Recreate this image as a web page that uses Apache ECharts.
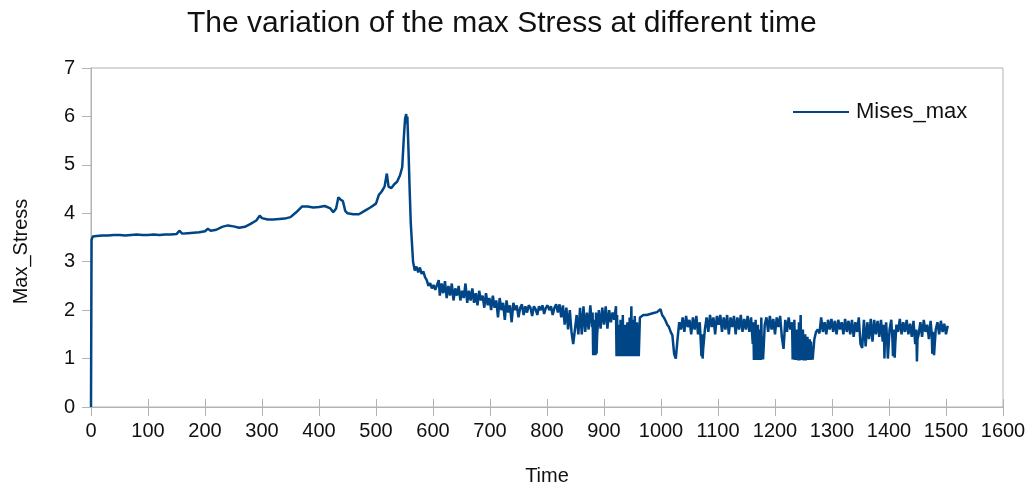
<!DOCTYPE html>
<html>
<head>
<meta charset="utf-8">
<title>Max Stress</title>
<script src="https://cdn.jsdelivr.net/npm/echarts@6/dist/echarts.min.js"></script>
<style>
  html, body { margin: 0; padding: 0; background: #fff; }
  #chart { width: 1033px; height: 491px; }
</style>
</head>
<body>
<div id="chart"></div>
<script>
// [time, Mises_max]
const riseSegment = [
  [0, 0], [1, 3.45], [3, 3.52], [10, 3.53], [20, 3.54], [30, 3.54], [40, 3.55], [50, 3.55],
  [60, 3.54], [70, 3.55], [80, 3.56], [90, 3.55], [100, 3.55], [110, 3.56], [120, 3.55],
  [130, 3.56], [140, 3.56], [150, 3.57], [155, 3.64], [160, 3.58], [170, 3.59], [180, 3.6],
  [190, 3.61], [200, 3.63], [205, 3.68], [210, 3.64], [220, 3.66], [230, 3.72], [240, 3.75],
  [250, 3.73], [260, 3.7], [270, 3.72], [280, 3.78], [290, 3.85], [296, 3.95], [300, 3.9],
  [310, 3.87], [320, 3.87], [330, 3.88], [340, 3.89], [350, 3.92], [360, 4.02], [370, 4.14],
  [380, 4.14], [390, 4.12], [400, 4.13], [410, 4.15], [420, 4.1], [425, 4.02], [430, 4.1],
  [434, 4.33], [438, 4.28], [442, 4.25], [446, 4.05], [450, 4.0], [460, 3.98], [470, 3.98],
  [480, 4.05], [490, 4.12], [500, 4.2], [505, 4.38], [510, 4.45], [515, 4.55], [519, 4.82],
  [522, 4.55], [527, 4.52], [532, 4.6], [537, 4.65], [542, 4.78]
];

const peakSegment = [
  [546, 4.95], [549, 5.6], [551, 5.95], [553, 6.05], [554, 5.85], [555, 6.0], [557, 5.3],
  [559, 4.5], [561, 3.8], [563, 3.4], [565, 3.0], [568, 2.82], [571, 2.9], [574, 2.78],
  [577, 2.88], [580, 2.75], [583, 2.8], [586, 2.68], [589, 2.62], [592, 2.5], [595, 2.56],
  [598, 2.45], [601, 2.52], [604, 2.42], [607, 2.38], [610, 2.62]
];

const decaySegment = [
  [612, 2.3], [615, 2.55], [618, 2.35], [621, 2.6], [624, 2.25], [627, 2.5], [630, 2.3],
  [633, 2.55], [636, 2.2], [639, 2.45], [642, 2.3], [645, 2.5], [648, 2.2], [651, 2.4],
  [654, 2.25], [657, 2.55], [660, 2.15], [663, 2.4], [666, 2.2], [669, 2.45], [672, 2.15],
  [675, 2.35], [678, 2.1], [681, 2.4], [684, 2.2], [687, 2.3], [690, 2.05], [693, 2.35],
  [696, 2.1], [699, 2.25], [702, 2.0], [705, 2.3], [708, 2.05], [711, 2.2], [714, 1.85],
  [717, 2.25], [720, 2.0], [723, 2.15], [726, 1.8], [729, 2.2], [732, 1.95], [735, 2.1],
  [738, 1.75], [741, 2.15], [744, 2.0], [747, 2.1], [750, 1.85], [753, 2.05], [756, 2.12],
  [759, 1.9], [762, 2.08], [765, 1.95], [768, 2.1], [771, 2.05], [774, 1.88], [777, 2.08],
  [780, 2.02], [783, 1.9], [786, 2.08], [789, 2.0], [792, 2.1], [795, 1.92], [798, 2.05],
  [801, 2.1], [804, 2.0], [807, 2.08], [810, 1.9], [813, 2.05], [816, 2.12], [819, 1.95],
  [822, 2.12], [825, 1.85], [828, 2.1], [831, 1.7], [834, 2.05], [837, 1.6], [840, 2.0],
  [843, 1.55], [846, 1.3], [849, 1.28], [852, 1.9], [855, 1.5], [858, 2.05], [861, 1.5],
  [864, 2.08], [867, 1.55], [870, 1.95], [873, 1.6], [876, 2.1], [879, 1.65], [880, 1.95],
  [881, 1.07], [882, 1.8], [883, 1.07], [884, 1.6], [885, 1.07], [886, 1.95], [887, 1.1],
  [888, 1.5], [891, 2.0], [894, 1.62], [897, 2.05], [900, 1.7], [903, 2.08],
  [906, 1.62], [909, 2.0], [912, 1.75], [915, 1.95], [918, 1.8], [921, 2.08], [922, 1.05],
  [923, 1.9], [924, 1.05], [925, 1.7], [926, 1.05], [927, 1.4], [928, 1.05], [929, 1.8],
  [930, 1.08], [931, 1.55], [932, 1.05], [933, 1.9], [934, 1.05], [935, 1.45], [936, 1.05],
  [937, 1.7], [938, 1.05], [939, 1.35], [940, 1.05], [941, 1.75], [942, 1.05], [943, 1.5],
  [944, 1.05], [945, 1.85], [946, 1.05], [947, 1.4], [948, 2.08], [949, 1.05], [950, 1.6],
  [951, 1.05], [952, 1.8], [953, 1.05], [954, 1.88], [955, 1.05], [956, 1.5], [957, 1.05],
  [958, 1.75], [959, 1.05], [960, 1.4], [961, 1.05], [963, 1.85], [966, 1.88],
  [969, 1.9], [972, 1.86], [975, 1.9], [978, 1.88], [981, 1.92], [984, 1.9], [987, 1.94],
  [990, 1.92], [993, 1.96], [996, 2.0], [999, 2.02], [1002, 1.9], [1005, 1.85], [1008, 1.78],
  [1011, 1.7], [1014, 1.65], [1017, 1.55], [1020, 1.48], [1023, 1.1], [1026, 1.0], [1029, 1.4],
  [1032, 1.75], [1035, 1.6], [1038, 1.85], [1041, 1.55], [1044, 1.88], [1047, 1.65], [1050, 1.8],
  [1053, 1.5], [1056, 1.85], [1059, 1.6], [1062, 1.88], [1065, 1.5], [1068, 1.75], [1070, 1.3],
  [1071, 1.05], [1072, 1.5], [1073, 1.0], [1074, 1.2], [1077, 1.6], [1080, 1.85], [1083, 1.55],
  [1086, 1.9], [1089, 1.65], [1092, 1.85],
  [1095, 1.5], [1098, 1.88], [1101, 1.7], [1104, 1.9], [1107, 1.55], [1110, 1.85], [1113, 1.6],
  [1116, 1.9], [1119, 1.5], [1122, 1.85], [1125, 1.65], [1128, 1.88], [1131, 1.5], [1134, 1.85],
  [1137, 1.6], [1140, 1.9], [1143, 1.55], [1146, 1.82], [1149, 1.6], [1152, 1.88], [1155, 1.55],
  [1158, 1.85], [1161, 1.3], [1162, 1.75], [1163, 0.97], [1164, 1.5], [1165, 0.97], [1166, 1.8],
  [1167, 0.97], [1168, 1.4], [1169, 0.97], [1170, 1.7], [1171, 0.97], [1172, 1.3], [1173, 0.97],
  [1174, 1.6], [1175, 0.97], [1176, 1.85], [1177, 0.98], [1178, 1.45], [1179, 0.98], [1180, 1.2],
  [1182, 1.7], [1185, 1.85], [1188, 1.55], [1191, 1.88], [1194, 1.6], [1197, 1.82],
  [1200, 1.5], [1203, 1.85], [1206, 1.65], [1209, 1.88], [1212, 1.45], [1215, 1.2], [1218, 1.8],
  [1221, 1.55], [1224, 1.85], [1227, 1.6], [1230, 1.75], [1231, 0.98], [1232, 1.5], [1233, 0.98],
  [1234, 1.8], [1235, 0.97], [1236, 1.35], [1237, 0.97], [1238, 1.6], [1239, 0.97], [1240, 1.4],
  [1241, 0.96], [1242, 1.75], [1243, 0.96], [1245, 1.9], [1246, 0.97], [1247, 1.45], [1248, 0.97],
  [1249, 1.6], [1250, 0.96], [1251, 1.35], [1252, 0.96], [1253, 1.5], [1254, 0.96], [1255, 1.3],
  [1256, 0.97], [1257, 1.45], [1258, 0.97], [1259, 1.3], [1260, 0.97], [1261, 1.4], [1262, 0.97],
  [1263, 1.35], [1264, 0.98], [1265, 1.25], [1266, 0.98], [1269, 1.4], [1272, 1.55], [1275, 1.6],
  [1278, 1.52], [1281, 1.85],
  [1284, 1.55], [1287, 1.75], [1290, 1.5], [1293, 1.8], [1296, 1.6], [1299, 1.82], [1302, 1.55],
  [1305, 1.78], [1308, 1.5], [1311, 1.8], [1314, 1.6], [1317, 1.75], [1320, 1.5], [1323, 1.82],
  [1326, 1.55], [1329, 1.78], [1332, 1.5], [1335, 1.8], [1338, 1.45], [1341, 1.75], [1344, 1.55],
  [1347, 1.85], [1350, 1.3], [1353, 1.22], [1356, 1.8], [1359, 1.25], [1362, 1.75], [1365, 1.4],
  [1368, 1.82], [1371, 1.35], [1374, 1.8], [1377, 1.5], [1380, 1.78], [1383, 1.45], [1386, 1.8],
  [1389, 1.35], [1391, 1.7], [1392, 1.0], [1393, 1.5], [1395, 1.75], [1397, 1.3], [1398, 1.0],
  [1401, 1.6], [1404, 1.8], [1406, 1.4], [1407, 1.05], [1408, 1.6], [1410, 1.02], [1411, 1.3],
  [1413, 1.7], [1416, 1.55], [1419, 1.82], [1422, 1.5], [1425, 1.75], [1428, 1.55],
  [1431, 1.8], [1434, 1.5], [1437, 1.72], [1440, 1.45], [1443, 1.78], [1446, 1.3], [1448, 1.6],
  [1449, 0.94], [1450, 1.4], [1452, 1.5], [1455, 1.75], [1458, 1.45], [1461, 1.8], [1464, 1.55],
  [1467, 1.7], [1470, 1.4], [1473, 1.78], [1475, 1.5], [1476, 1.1], [1477, 1.55], [1479, 1.07],
  [1482, 1.6], [1485, 1.75], [1488, 1.5], [1491, 1.78], [1494, 1.55], [1497, 1.72], [1500, 1.5],
  [1503, 1.68]
];

const xTicks = { min: 0, max: 1600, step: 100 };
const yTicks = { min: 0, max: 7, step: 1 };

const lineColor = '#004586';
const axisColor = '#b3b3b3';
const font = '"Liberation Sans", Arial, sans-serif';

const chart = echarts.init(document.getElementById('chart'));

const option = {
  animation: false,
  title: {
    text: 'The variation of the max Stress at different time',
    left: 182,
    top: 4,
    textStyle: { fontFamily: font, fontSize: 30, fontWeight: 'normal', color: '#111' }
  },
  legend: {
    data: ['Mises_max'],
    left: 788,
    top: 96,
    icon: 'rect',
    itemWidth: 56,
    itemHeight: 2,
    itemGap: 0,
    textStyle: { fontFamily: font, fontSize: 22, color: '#111', padding: [0, 0, 0, 2] }
  },
  grid: {
    left: 91, right: 30, top: 68, bottom: 78,
    show: true, borderColor: axisColor, borderWidth: 1,
    containLabel: false
  },
  xAxis: [
    {
      type: 'value',
      min: xTicks.min, max: xTicks.max, interval: xTicks.step,
      name: 'Time', nameLocation: 'middle', nameGap: 59,
      nameTextStyle: { fontFamily: font, fontSize: 20, color: '#111' },
      axisLine: { show: true, lineStyle: { color: axisColor, width: 1 } },
      axisTick: { show: true, length: 9, lineStyle: { color: axisColor } },
      axisLabel: { fontFamily: font, fontSize: 20, color: '#111', margin: 14, formatter: v => String(v) },
      splitLine: { show: false }
    },
    {
      type: 'value',
      min: xTicks.min, max: xTicks.max, interval: xTicks.step,
      position: 'bottom',
      axisLine: { show: false },
      axisTick: { show: true, inside: true, length: 8, lineStyle: { color: axisColor } },
      axisLabel: { show: false },
      splitLine: { show: false }
    }
  ],
  yAxis: {
    type: 'value',
    min: yTicks.min, max: yTicks.max, interval: yTicks.step,
    name: 'Max_Stress', nameLocation: 'middle', nameGap: 60,
    nameTextStyle: { fontFamily: font, fontSize: 20, color: '#111', padding: [0, 28, 0, 0] },
    axisLine: { show: true, lineStyle: { color: axisColor, width: 1 } },
    axisTick: { show: true, length: 9, lineStyle: { color: axisColor } },
    axisLabel: { fontFamily: font, fontSize: 20, color: '#111', margin: 16 },
    splitLine: { show: false }
  },
  series: [
    {
      name: 'Mises_max',
      type: 'line',
      symbol: 'none',
      data: riseSegment.concat(peakSegment, decaySegment),
      lineStyle: { color: lineColor, width: 2.5 },
      itemStyle: { color: lineColor }
    }
  ]
};

chart.setOption(option);
window.addEventListener('resize', () => chart.resize());
</script>
</body>
</html>
